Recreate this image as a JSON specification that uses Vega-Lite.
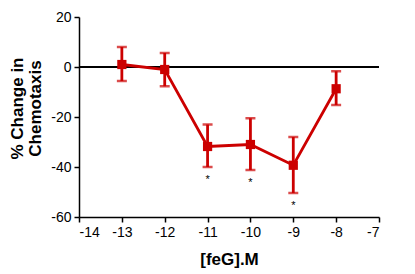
{
  "$schema": "https://vega.github.io/schema/vega-lite/v6.json",
  "autosize": "none",
  "width": 300,
  "height": 200,
  "padding": {"left": 79, "top": 17, "right": 36, "bottom": 57},
  "background": "white",
  "config": {
    "view": {"stroke": null},
    "font": "Liberation Sans",
    "axis": {
      "grid": false,
      "domainColor": "black",
      "domainWidth": 1.5,
      "tickColor": "black",
      "tickWidth": 1.5,
      "tickSize": 5,
      "labelFont": "Liberation Sans",
      "labelFontSize": 14,
      "labelColor": "black",
      "labelExpr": "'' + datum.value",
      "titleFont": "Liberation Sans",
      "titleFontSize": 17,
      "titleFontWeight": "bold",
      "titleColor": "black",
      "titleLineHeight": 18
    }
  },
  "data": {
    "values": [
      {"x": -13, "mean": 1, "lo": -5.6, "hi": 8, "sig": ""},
      {"x": -12, "mean": -1, "lo": -7.7, "hi": 5.6, "sig": ""},
      {"x": -11, "mean": -31.8, "lo": -40, "hi": -23, "sig": "*"},
      {"x": -10, "mean": -31, "lo": -41.2, "hi": -20.5, "sig": "*"},
      {"x": -9, "mean": -39.3, "lo": -50.4, "hi": -28, "sig": "*"},
      {"x": -8, "mean": -8.7, "lo": -15.2, "hi": -1.7, "sig": ""}
    ]
  },
  "encoding": {
    "x": {
      "field": "x",
      "type": "quantitative",
      "scale": {"domain": [-14, -7], "nice": false, "zero": false},
      "axis": {"values": [-14, -13, -12, -11, -10, -9, -8, -7], "title": "[feG].M", "titlePadding": 12, "labelPadding": 3}
    }
  },
  "layer": [
    {
      "mark": {"type": "rule", "color": "black", "strokeWidth": 2},
      "encoding": {
        "x": {"datum": -14, "type": "quantitative"},
        "x2": {"datum": -7},
        "y": {"datum": 0, "type": "quantitative"}
      }
    },
    {
      "mark": {"type": "rule", "color": "#cc0000", "strokeWidth": 2.8},
      "encoding": {
        "y": {"field": "lo", "type": "quantitative"},
        "y2": {"field": "hi"}
      }
    },
    {
      "mark": {"type": "tick", "color": "#cc0000", "thickness": 2.5, "size": 10, "orient": "horizontal"},
      "encoding": {"y": {"field": "lo", "type": "quantitative"}}
    },
    {
      "mark": {"type": "tick", "color": "#cc0000", "thickness": 2.5, "size": 10, "orient": "horizontal"},
      "encoding": {"y": {"field": "hi", "type": "quantitative"}}
    },
    {
      "mark": {"type": "line", "color": "#cc0000", "strokeWidth": 2.8},
      "encoding": {
        "y": {
          "field": "mean",
          "type": "quantitative",
          "scale": {"domain": [-60, 20], "nice": false},
          "axis": {
            "values": [-60, -40, -20, 0, 20],
            "title": ["% Change in", "Chemotaxis"],
            "titleX": -53,
            "titleY": 91,
            "labelPadding": 3
          }
        }
      }
    },
    {
      "mark": {"type": "square", "color": "#cc0000", "filled": true, "opacity": 1, "size": 85},
      "encoding": {"y": {"field": "mean", "type": "quantitative"}}
    },
    {
      "mark": {"type": "text", "color": "black", "fontSize": 11, "dy": 13, "font": "Liberation Sans"},
      "encoding": {
        "y": {"field": "lo", "type": "quantitative"},
        "text": {"field": "sig"}
      }
    }
  ]
}
